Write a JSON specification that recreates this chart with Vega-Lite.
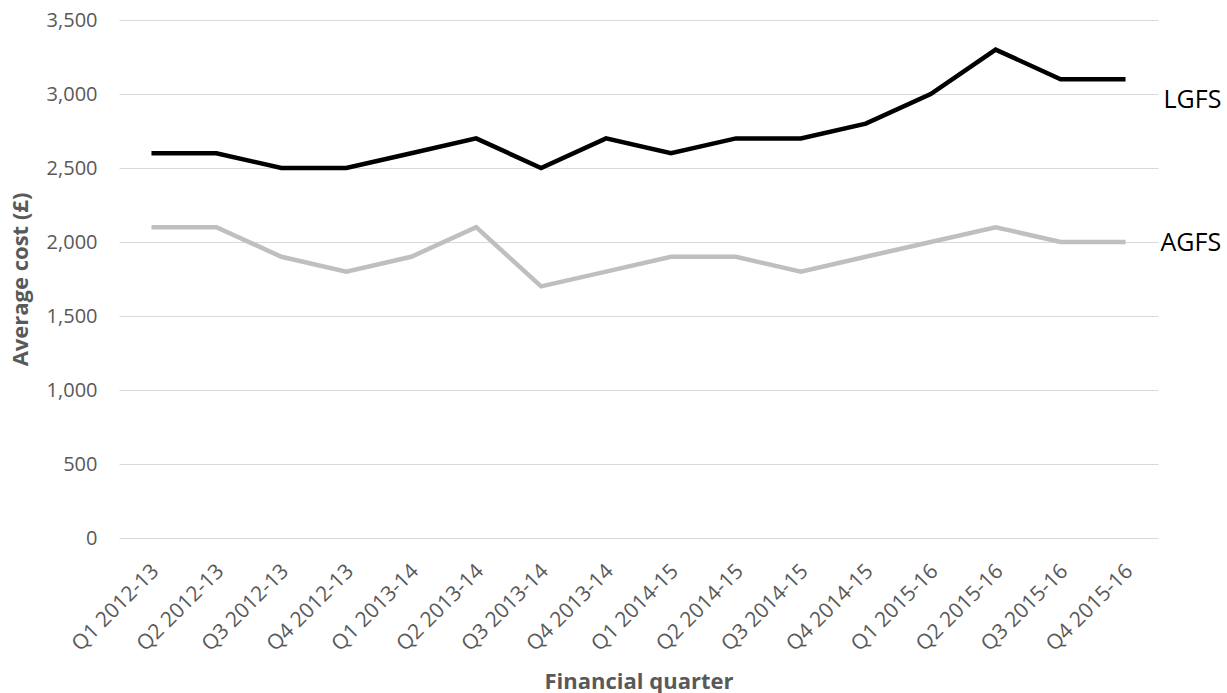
{
  "$schema": "https://vega.github.io/schema/vega-lite/v6.json",
  "width": 1039,
  "height": 518,
  "autosize": {"type": "none"},
  "padding": {"left": 119, "top": 20, "right": 69, "bottom": 155},
  "background": "white",
  "config": {"view": {"stroke": null}, "font": "Open Sans"},
  "data": {
    "values": [
      {"quarter": "Q1 2012-13", "LGFS": 2600, "AGFS": 2100},
      {"quarter": "Q2 2012-13", "LGFS": 2600, "AGFS": 2100},
      {"quarter": "Q3 2012-13", "LGFS": 2500, "AGFS": 1900},
      {"quarter": "Q4 2012-13", "LGFS": 2500, "AGFS": 1800},
      {"quarter": "Q1 2013-14", "LGFS": 2600, "AGFS": 1900},
      {"quarter": "Q2 2013-14", "LGFS": 2700, "AGFS": 2100},
      {"quarter": "Q3 2013-14", "LGFS": 2500, "AGFS": 1700},
      {"quarter": "Q4 2013-14", "LGFS": 2700, "AGFS": 1800},
      {"quarter": "Q1 2014-15", "LGFS": 2600, "AGFS": 1900},
      {"quarter": "Q2 2014-15", "LGFS": 2700, "AGFS": 1900},
      {"quarter": "Q3 2014-15", "LGFS": 2700, "AGFS": 1800},
      {"quarter": "Q4 2014-15", "LGFS": 2800, "AGFS": 1900},
      {"quarter": "Q1 2015-16", "LGFS": 3000, "AGFS": 2000},
      {"quarter": "Q2 2015-16", "LGFS": 3300, "AGFS": 2100},
      {"quarter": "Q3 2015-16", "LGFS": 3100, "AGFS": 2000},
      {"quarter": "Q4 2015-16", "LGFS": 3100, "AGFS": 2000}
    ]
  },
  "encoding": {
    "x": {
      "field": "quarter",
      "type": "ordinal",
      "sort": null,
      "scale": {"type": "point", "padding": 0.5},
      "axis": {
        "title": "Financial quarter",
        "titleFont": "Open Sans",
        "titleFontSize": 22,
        "titleFontWeight": "bold",
        "titleColor": "#595959",
        "titleY": 150,
        "titleBaseline": "alphabetic",
        "labelAngle": -45,
        "labelFont": "Open Sans",
        "labelFontSize": 21,
        "labelColor": "#595959",
        "labelPadding": 22,
        "labelOffset": -4,
        "labelOverlap": false,
        "ticks": false,
        "domain": false,
        "grid": false
      }
    }
  },
  "layer": [
    {
      "mark": {"type": "line", "color": "#bfbfbf", "strokeWidth": 4.5},
      "encoding": {
        "y": {
          "field": "AGFS",
          "type": "quantitative",
          "scale": {"domain": [0, 3500]},
          "axis": {
            "title": "Average cost (£)",
            "titleFont": "Open Sans",
            "titleFontSize": 22,
            "titleFontWeight": "bold",
            "titleColor": "#595959",
            "titleX": -99,
            "titleY": 259,
            "titleBaseline": "middle",
            "values": [0, 500, 1000, 1500, 2000, 2500, 3000, 3500],
            "format": ",d",
            "labelFont": "Open Sans",
            "labelFontSize": 20,
            "labelColor": "#595959",
            "labelPadding": 22,
            "ticks": false,
            "domain": false,
            "grid": true,
            "gridColor": "#d9d9d9",
            "gridWidth": 1
          }
        }
      }
    },
    {
      "mark": {"type": "line", "color": "#000000", "strokeWidth": 4.5},
      "encoding": {
        "y": {"field": "LGFS", "type": "quantitative"}
      }
    },
    {
      "transform": [{"filter": "datum.quarter === 'Q4 2015-16'"}],
      "mark": {"type": "text", "text": "LGFS", "align": "left", "baseline": "middle", "dx": 38, "dy": 21, "fontSize": 25, "font": "Open Sans", "color": "#000000"},
      "encoding": {"y": {"field": "LGFS", "type": "quantitative"}}
    },
    {
      "transform": [{"filter": "datum.quarter === 'Q4 2015-16'"}],
      "mark": {"type": "text", "text": "AGFS", "align": "left", "baseline": "middle", "dx": 35, "dy": 1, "fontSize": 25, "font": "Open Sans", "color": "#000000"},
      "encoding": {"y": {"field": "AGFS", "type": "quantitative"}}
    }
  ]
}
